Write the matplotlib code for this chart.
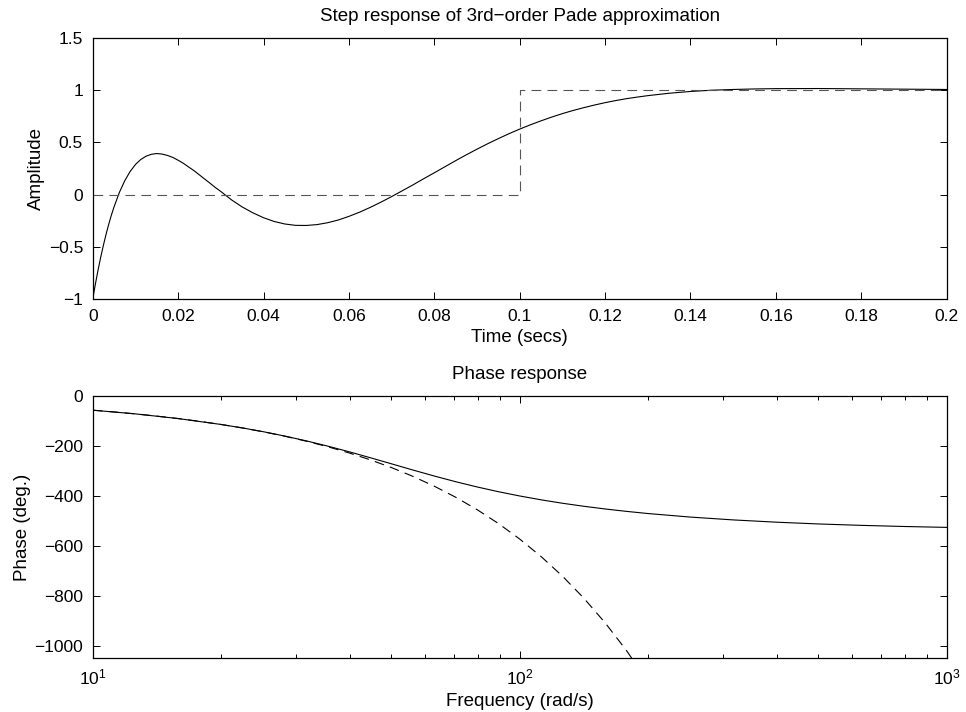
import matplotlib
matplotlib.use("Agg")
import matplotlib.pyplot as plt
from matplotlib.ticker import LogLocator, NullFormatter

plt.rcParams['font.family'] = ['Liberation Sans', 'DejaVu Sans']
plt.rcParams['font.size'] = 13
plt.rcParams['lines.scale_dashes'] = False

# step response of the 3rd-order Pade approximation
t_pade = [0, 0.000625, 0.00125, 0.001875, 0.0025, 0.003125, 0.00375, 0.004375, 0.005,
          0.00625, 0.0075, 0.00875, 0.01, 0.01125, 0.0125, 0.01375, 0.015, 0.01625,
          0.0175, 0.01875, 0.02, 0.02125, 0.0225, 0.02375, 0.025, 0.02625, 0.0275,
          0.02875, 0.03, 0.0325, 0.035, 0.0375, 0.04, 0.0425, 0.045, 0.0475, 0.05,
          0.0525, 0.055, 0.0575, 0.06, 0.0625, 0.065, 0.0675, 0.07, 0.0725, 0.075,
          0.0775, 0.08, 0.0825, 0.085, 0.0875, 0.09, 0.0925, 0.095, 0.0975, 0.1,
          0.1025, 0.105, 0.1075, 0.11, 0.1125, 0.115, 0.1175, 0.12, 0.1225, 0.125,
          0.1275, 0.13, 0.135, 0.14, 0.145, 0.15, 0.155, 0.16, 0.17, 0.18, 0.19, 0.2]
y_pade = [-1.0, -0.856, -0.722, -0.598, -0.485, -0.380, -0.284, -0.196, -0.117,
          0.021, 0.132, 0.220, 0.287, 0.335, 0.367, 0.385, 0.392, 0.387,
          0.374, 0.355, 0.328, 0.298, 0.262, 0.227, 0.187, 0.147, 0.107,
          0.066, 0.029, -0.051, -0.119, -0.175, -0.222, -0.258, -0.282, -0.295, -0.296,
          -0.288, -0.270, -0.244, -0.209, -0.169, -0.123, -0.073, -0.020, 0.036, 0.092,
          0.151, 0.208, 0.266, 0.324, 0.380, 0.434, 0.486, 0.535, 0.582, 0.626,
          0.667, 0.705, 0.741, 0.774, 0.804, 0.831, 0.856, 0.879, 0.899, 0.917,
          0.932, 0.946, 0.969, 0.986, 0.998, 1.005, 1.010, 1.013, 1.014, 1.011, 1.008, 1.005]

# ideal delayed step
t_step = [0, 0.1, 0.1, 0.2]
y_step = [0, 0, 1, 1]

# phase of the Pade approximation, deg
w_pade = [10, 12.59, 15.85, 19.95, 22.39, 25.12, 28.18, 31.62, 35.48, 39.81,
          44.67, 50.12, 56.23, 63.10, 70.79, 79.43, 89.13, 100, 112.2, 125.9,
          141.3, 158.5, 177.8, 199.5, 251.2, 316.2, 398.1, 501.2, 631.0, 794.3, 1000]
ph_pade = [-57.3, -72.1, -90.8, -114.3, -128.1, -143.6, -160.9, -180.0, -200.9, -223.5,
           -247.5, -272.1, -296.8, -320.8, -343.5, -364.4, -383.5, -400.6, -416.0, -429.7,
           -441.8, -452.6, -462.2, -470.8, -485.1, -496.4, -505.4, -512.6, -518.2, -522.7,
           -526.3]

# phase of the pure delay, deg
w_delay = [10, 11.22, 12.59, 14.13, 15.85, 17.78, 19.95, 22.39, 25.12, 28.18,
           31.62, 35.48, 39.81, 44.67, 50.12, 56.23, 63.10, 70.79, 79.43, 89.13,
           100, 112.2, 125.9, 141.3, 158.5, 177.8, 199.5]
ph_delay = [-57.3, -64.3, -72.1, -81.0, -90.8, -101.9, -114.3, -128.3, -143.9, -161.5,
            -181.2, -203.3, -228.1, -255.9, -287.2, -322.2, -361.5, -405.6, -455.1, -510.7,
            -573.0, -642.9, -721.3, -809.6, -908.1, -1018.9, -1143.2]

time_ticks = [0, 0.02, 0.04, 0.06, 0.08, 0.1, 0.12, 0.14, 0.16, 0.18, 0.2]
amp_ticks = [-1, -0.5, 0, 0.5, 1, 1.5]
phase_ticks = [-1000, -800, -600, -400, -200, 0]


def lab(v):
    return ('%g' % v).replace('-', '\u2212')


fig = plt.figure(figsize=(9.66, 7.12), dpi=100)
ax1 = fig.add_axes([0.096, 0.580, 0.884, 0.367])
ax2 = fig.add_axes([0.096, 0.0755, 0.884, 0.3685])

dash = (7, 4.5)

ax1.plot(t_pade, y_pade, color='black', lw=0.8)
ax1.plot(t_step, y_step, color='#555555', lw=0.8, dashes=dash)
ax1.set_xlim(0, 0.2)
ax1.set_ylim(-1, 1.5)
ax1.set_xticks(time_ticks, [lab(v) for v in time_ticks])
ax1.set_yticks(amp_ticks, [lab(v) for v in amp_ticks])
ax1.set_title('Step response of 3rd\u2212order Pade approximation', fontsize=13.5, pad=12)
ax1.set_xlabel('Time (secs)', fontsize=13.5, labelpad=4)
ax1.set_ylabel('Amplitude', fontsize=13.5, labelpad=2.5)

ax2.semilogx(w_pade, ph_pade, color='black', lw=0.8)
ax2.semilogx(w_delay, ph_delay, color='black', lw=0.8, dashes=dash)
ax2.set_xlim(10, 1000)
ax2.set_ylim(-1050, 0)
ax2.set_yticks(phase_ticks, [lab(v) for v in phase_ticks])
ax2.xaxis.set_major_locator(LogLocator(base=10, numticks=10))
ax2.xaxis.set_minor_locator(LogLocator(base=10, subs=range(2, 10), numticks=20))
ax2.xaxis.set_minor_formatter(NullFormatter())
ax2.set_title('Phase response', fontsize=13.5, pad=12)
ax2.set_xlabel('Frequency (rad/s)', fontsize=13.5, labelpad=4)
ax2.set_ylabel('Phase (deg.)', fontsize=13.5, labelpad=2.5)

for ax in (ax1, ax2):
    for s in ax.spines.values():
        s.set_linewidth(0.9)
    ax.tick_params(which='both', direction='in', top=True, right=True, width=0.7)
    ax.tick_params(which='major', length=5, labelsize=12.5, pad=7)
    ax.tick_params(which='minor', length=3)

fig.savefig('out.png', dpi=100)
